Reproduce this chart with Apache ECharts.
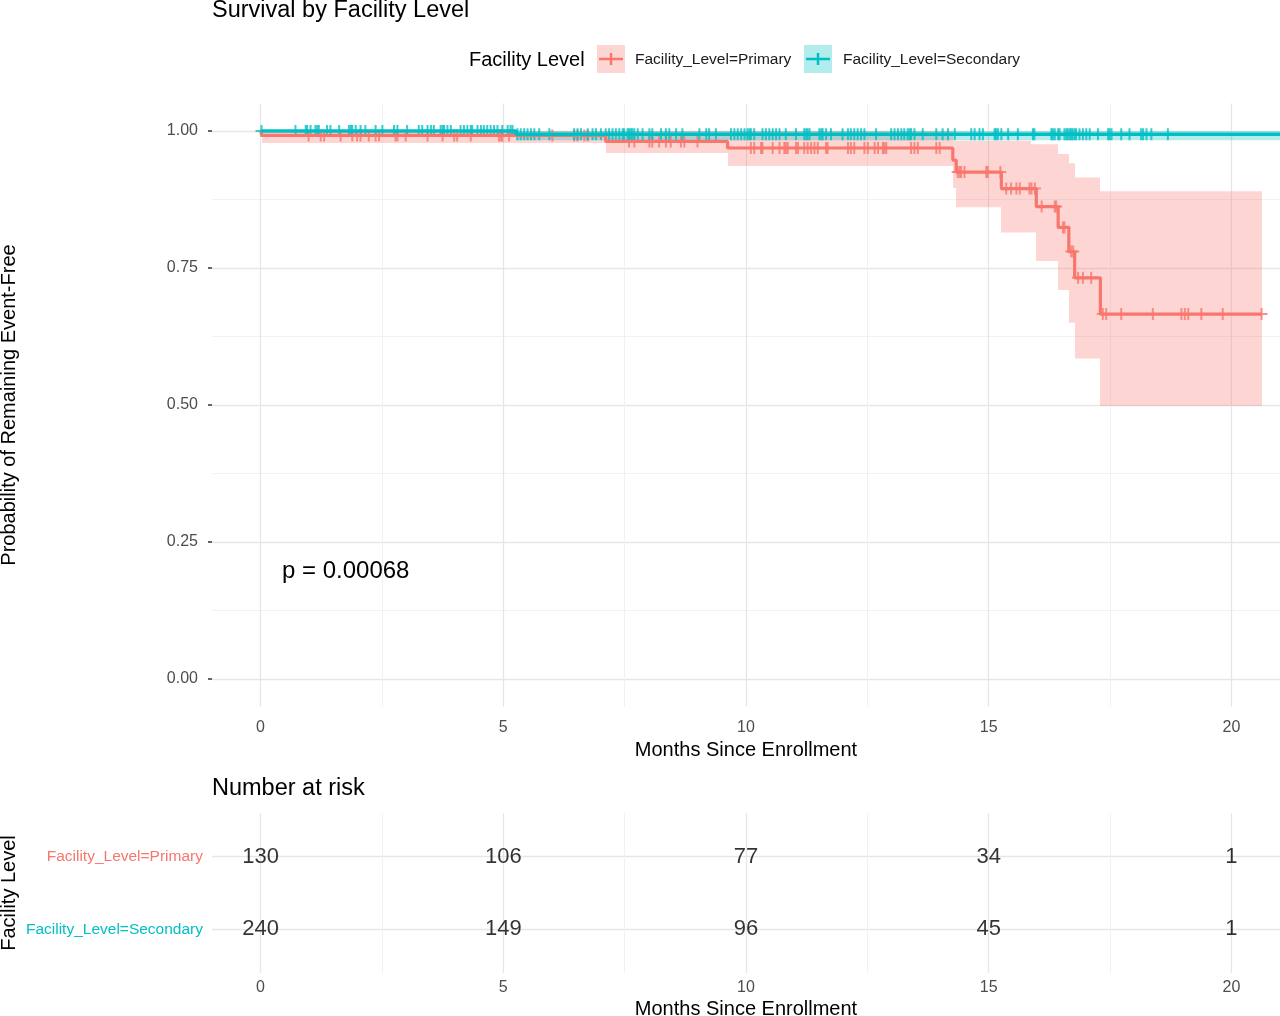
<!DOCTYPE html>
<html><head><meta charset="utf-8">
<script src="https://cdn.jsdelivr.net/npm/echarts@6/dist/echarts.min.js"></script>
<style>html,body{margin:0;padding:0;background:#fff}#c{width:1280px;height:1016px}</style>
</head><body><div id="c"></div>
<script>
// ---------- data ----------
const groups = ['Facility_Level=Primary', 'Facility_Level=Secondary'];
const xTicks = [0, 5, 10, 15, 20];
const xMinorTicks = [2.5, 7.5, 12.5, 17.5];
const yTicks = [0, 0.25, 0.5, 0.75, 1];
const yMinorTicks = [0.125, 0.375, 0.625, 0.875];

const primaryEventTimes = [0, 0.03, 7.11, 9.62, 14.26, 14.33, 15.26, 15.98, 16.43, 16.65, 16.77, 17.30, 20.62];
const primarySurv       = [1, 0.992, 0.981, 0.969, 0.947, 0.925, 0.895, 0.862, 0.824, 0.780, 0.732, 0.666, 0.666];
const primaryBandTimes  = [0, 0.03, 7.11, 9.62, 14.26, 14.33, 15.26, 15.88, 15.98, 16.43, 16.65, 16.77, 17.30, 20.62];
const primaryLower      = [1, 0.978, 0.960, 0.936, 0.896, 0.861, 0.815, 0.815, 0.763, 0.710, 0.650, 0.585, 0.498, 0.498];
const primaryUpper      = [1, 1, 1, 1, 0.982, 0.982, 0.982, 0.976, 0.976, 0.958, 0.941, 0.915, 0.890, 0.890];

const secondaryEventTimes = [0, 5.26, 21.8];
const secondarySurv       = [1, 0.994, 0.994];
const secondaryBandTimes  = [0, 5.26, 21.8];
const secondaryLower      = [1, 0.983, 0.983];
const secondaryUpper      = [1, 1, 1];

const primaryCensor = [0.99, 1.24, 1.31, 1.65, 1.89, 1.99, 2.06, 2.23, 2.37, 2.44, 2.78, 2.82, 2.99, 3.44, 3.75, 3.99, 4.05, 4.33, 4.91, 4.95, 4.98,
  5.12, 6.01, 6.46, 6.53, 6.67, 6.74, 7.59, 7.70, 8.01, 8.07, 8.21, 8.35, 8.45, 8.66, 8.73, 9.00, 10.10, 10.17, 10.31,
  10.34, 10.55, 10.69, 10.79, 10.82, 10.86, 11.03, 11.07, 11.20, 11.27, 11.34, 11.41, 11.48, 11.65, 11.68, 12.10, 12.16, 12.23,
  12.44, 12.51, 12.65, 12.72, 12.82, 12.85, 12.89, 13.40, 13.47, 13.54, 13.92, 13.99,
  14.36, 14.40, 14.43, 14.50, 14.95, 14.98, 15.24, 15.36, 15.46, 15.57, 15.64, 15.84, 15.88, 15.95, 16.09, 16.36, 16.39,
  16.53, 16.56, 16.70, 16.74, 16.84, 16.94, 17.11, 17.35, 17.42, 17.73, 18.38, 18.97, 19.04, 19.11, 19.38, 19.82, 20.62];

const secondaryCensor = [0.02, 0.72, 0.93, 0.96, 1.03, 1.13, 1.17, 1.20, 1.37, 1.44, 1.62, 1.82, 1.86, 1.89, 1.96, 2.06, 2.16, 2.37, 2.51,
  2.75, 2.82, 3.02, 3.26, 3.33, 3.44, 3.51, 3.57, 3.71, 3.75, 3.78, 3.85, 3.92, 4.12, 4.19, 4.26, 4.33, 4.36, 4.47, 4.54, 4.60,
  4.67, 4.74, 4.81, 4.88, 4.98, 5.09, 5.15, 5.19, 5.29, 5.36, 5.43, 5.50, 5.57, 5.64, 5.74, 5.95, 6.46, 6.53, 6.60, 6.74, 6.84,
  6.91, 7.01, 7.11, 7.18, 7.25, 7.32, 7.39, 7.46, 7.49, 7.56, 7.59, 7.63, 7.66, 7.70, 7.77, 7.87, 8.01, 8.07, 8.25, 8.35, 8.42,
  8.56, 8.69, 9.04, 9.18, 9.24, 9.38, 9.69, 9.76, 9.83, 9.90, 9.97, 10.03, 10.07, 10.10, 10.17, 10.34, 10.41, 10.48, 10.55,
  10.62, 10.69, 10.82, 11.03, 11.20, 11.24, 11.27, 11.31, 11.51, 11.55, 11.58, 11.65, 11.75, 11.99, 12.10, 12.16, 12.23, 12.30,
  12.37, 12.44, 12.68, 12.99, 13.06, 13.13, 13.20, 13.26, 13.33, 13.37, 13.40, 13.47, 13.64, 13.92, 14.05, 14.16, 14.30, 14.64,
  14.71, 14.81, 14.88, 15.12, 15.15, 15.19, 15.26, 15.40, 15.60, 15.91, 15.94, 16.29, 16.32, 16.36, 16.43, 16.46, 16.56, 16.60,
  16.63, 16.67, 16.70, 16.73, 16.77, 16.80, 16.87, 16.94, 17.01, 17.08, 17.25, 17.46, 17.49, 17.53, 17.73, 17.90, 18.14, 18.18,
  18.25, 18.35, 18.69];

const riskTimes = [0, 5, 10, 15, 20];
const primaryAtRisk = [130, 106, 77, 34, 1];
const secondaryAtRisk = [240, 149, 96, 45, 1];
const pValueText = 'p = 0.00068';

// ---------- helpers ----------
const RED = '#F8766D', TEAL = '#00BFC4';
const RED_A = 'rgba(248,118,109,0.3)', TEAL_A = 'rgba(0,191,196,0.3)';
const FONT = '"Liberation Sans", Arial, sans-serif';
const zip = (a, b) => a.map((v, i) => [v, b[i]]);
function survAt(times, surv, t) { let s = surv[0]; for (let i = 0; i < times.length; i++) if (times[i] <= t) s = surv[i]; return s; }
const PLUS = 'path://M5,0 H7 V5 H12 V7 H7 V12 H5 V7 H0 V5 H5 Z';

function bandSeries(times, lower, upper, fill) {
  const data = [];
  for (let i = 0; i < times.length - 1; i++) data.push([times[i], times[i + 1], lower[i], upper[i]]);
  return {
    type: 'custom', xAxisIndex: 0, yAxisIndex: 0, silent: true,
    encode: { x: [0, 1], y: [2, 3] },
    data: data,
    renderItem: (params, api) => {
      const a = api.coord([api.value(0), api.value(3)]);
      const b = api.coord([api.value(1), api.value(2)]);
      const cs = params.coordSys;
      const x0 = Math.max(cs.x, Math.round(a[0]));
      const x1 = Math.min(cs.x + cs.width, Math.round(b[0]));
      if (x1 <= x0) return null;
      return { type: 'rect', shape: { x: x0, y: a[1], width: x1 - x0, height: b[1] - a[1] }, style: { fill: fill } };
    }
  };
}

const majorSplit = { show: true, lineStyle: { color: '#e6e6e6', width: 1.3 } };
const minorSplit = { show: true, lineStyle: { color: '#f1f1f1', width: 1 } };
const tickLabel = { color: '#4d4d4d', fontSize: 16, fontFamily: FONT };
const noLine = { show: false, onZero: false };

const chart = echarts.init(document.getElementById('c'), null, { renderer: 'canvas' });
chart.setOption({
  animation: false,
  backgroundColor: '#fff',
  textStyle: { fontFamily: FONT },
  title: [
    { text: 'Survival by Facility Level', left: 212, top: -1, padding: 0,
      textStyle: { fontSize: 23.5, fontWeight: 'normal', color: '#000', fontFamily: FONT } },
    { text: 'Number at risk', left: 212, top: 777, padding: 0,
      textStyle: { fontSize: 23.5, fontWeight: 'normal', color: '#000', fontFamily: FONT } }
  ],
  grid: [
    { left: 212, right: 0, top: 103.6, bottom: 309.6, containLabel: false, outerBoundsMode: 'none' },
    { left: 212, right: 0, top: 813, bottom: 43, containLabel: false, outerBoundsMode: 'none' }
  ],
  xAxis: [
    { type: 'value', gridIndex: 0, min: -1, max: 21, position: 'bottom',
      axisLine: noLine, axisTick: { show: false, customValues: xTicks },
      axisLabel: Object.assign({ customValues: xTicks, margin: 13 }, tickLabel),
      splitLine: majorSplit,
      name: 'Months Since Enrollment', nameLocation: 'middle', nameGap: 34, nameMoveOverlap: false,
      nameTextStyle: { fontSize: 20, color: '#000', fontFamily: FONT } },
    { type: 'value', gridIndex: 0, min: -1, max: 21, position: 'top',
      axisLine: noLine, axisTick: { show: false, customValues: xMinorTicks },
      axisLabel: { show: false }, splitLine: minorSplit },
    { type: 'value', gridIndex: 1, min: -1, max: 21, position: 'bottom',
      axisLine: noLine, axisTick: { show: false, customValues: xTicks },
      axisLabel: Object.assign({ customValues: xTicks, margin: 7 }, tickLabel),
      splitLine: majorSplit,
      name: 'Months Since Enrollment', nameLocation: 'middle', nameGap: 26, nameMoveOverlap: false,
      nameTextStyle: { fontSize: 20, color: '#000', fontFamily: FONT } },
    { type: 'value', gridIndex: 1, min: -1, max: 21, position: 'top',
      axisLine: noLine, axisTick: { show: false, customValues: xMinorTicks },
      axisLabel: { show: false }, splitLine: minorSplit }
  ],
  yAxis: [
    { type: 'value', gridIndex: 0, min: -0.05, max: 1.05, position: 'left',
      axisLine: noLine,
      axisTick: { show: true, customValues: yTicks, length: 4, lineStyle: { color: '#333', width: 1.5 } },
      axisLabel: Object.assign({ customValues: yTicks, margin: 14, formatter: v => v.toFixed(2) }, tickLabel),
      splitLine: majorSplit,
      name: 'Probability of Remaining Event-Free', nameLocation: 'middle', nameGap: 193, nameRotate: 90, nameMoveOverlap: false,
      nameTextStyle: { fontSize: 20, color: '#000', fontFamily: FONT } },
    { type: 'value', gridIndex: 0, min: -0.05, max: 1.05, position: 'right',
      axisLine: noLine, axisTick: { show: false, customValues: yMinorTicks },
      axisLabel: { show: false }, splitLine: minorSplit },
    { type: 'value', gridIndex: 1, min: 0.4, max: 2.6, position: 'left',
      axisLine: noLine, axisTick: { show: false, customValues: [1, 2] },
      axisLabel: { customValues: [1, 2], margin: 9,
        formatter: v => v === 2 ? '{p|' + groups[0] + '}' : '{s|' + groups[1] + '}',
        rich: { p: { color: RED, fontSize: 15.5, fontFamily: FONT }, s: { color: TEAL, fontSize: 15.5, fontFamily: FONT } } },
      splitLine: majorSplit,
      name: 'Facility Level', nameLocation: 'middle', nameGap: 193, nameRotate: 90, nameMoveOverlap: false,
      nameTextStyle: { fontSize: 20, color: '#000', fontFamily: FONT } }
  ],
  series: [
    bandSeries(primaryBandTimes, primaryLower, primaryUpper, RED_A),
    bandSeries(secondaryBandTimes, secondaryLower, secondaryUpper, TEAL_A),
    { type: 'line', name: groups[0], xAxisIndex: 0, yAxisIndex: 0, step: 'end', showSymbol: false,
      lineStyle: { color: RED, width: 3.2 }, data: zip(primaryEventTimes, primarySurv) },
    { type: 'line', name: groups[1], xAxisIndex: 0, yAxisIndex: 0, step: 'end', showSymbol: false,
      lineStyle: { color: TEAL, width: 3.4 }, data: zip(secondaryEventTimes, secondarySurv) },
    { type: 'scatter', xAxisIndex: 0, yAxisIndex: 0, symbol: PLUS, symbolSize: 12, itemStyle: { color: RED },
      data: primaryCensor.map(t => [t, survAt(primaryEventTimes, primarySurv, t)]) },
    { type: 'scatter', xAxisIndex: 0, yAxisIndex: 0, symbol: PLUS, symbolSize: 12, itemStyle: { color: TEAL },
      data: secondaryCensor.map(t => [t, survAt(secondaryEventTimes, secondarySurv, t)]) },
    { type: 'scatter', xAxisIndex: 2, yAxisIndex: 2, symbolSize: 1, itemStyle: { color: 'rgba(0,0,0,0)' },
      label: { show: true, position: 'inside', formatter: p => String(p.value[2]), fontSize: 22, color: '#000', fontFamily: FONT },
      data: riskTimes.map((t, i) => [t, 2, primaryAtRisk[i]]) },
    { type: 'scatter', xAxisIndex: 2, yAxisIndex: 2, symbolSize: 1, itemStyle: { color: 'rgba(0,0,0,0)' },
      label: { show: true, position: 'inside', formatter: p => String(p.value[2]), fontSize: 22, color: '#000', fontFamily: FONT },
      data: riskTimes.map((t, i) => [t, 1, secondaryAtRisk[i]]) }
  ],
  graphic: [
    { type: 'text', x: 282, y: 571, style: { text: pValueText, fontSize: 24, fontFamily: FONT, fill: '#000', verticalAlign: 'middle' } },
    { type: 'text', x: 469, y: 60, style: { text: 'Facility Level', fontSize: 20, fontFamily: FONT, fill: '#000', verticalAlign: 'middle' } },
    { type: 'rect', shape: { x: 597, y: 45, width: 28, height: 28 }, style: { fill: RED_A } },
    { type: 'line', shape: { x1: 599, y1: 59, x2: 623, y2: 59 }, style: { stroke: RED, lineWidth: 2.5 } },
    { type: 'line', shape: { x1: 611, y1: 53, x2: 611, y2: 65 }, style: { stroke: RED, lineWidth: 2.5 } },
    { type: 'text', x: 635, y: 60, style: { text: groups[0], fontSize: 15.5, fontFamily: FONT, fill: '#1a1a1a', verticalAlign: 'middle' } },
    { type: 'rect', shape: { x: 804, y: 45, width: 28, height: 28 }, style: { fill: TEAL_A } },
    { type: 'line', shape: { x1: 806, y1: 59, x2: 830, y2: 59 }, style: { stroke: TEAL, lineWidth: 2.5 } },
    { type: 'line', shape: { x1: 818, y1: 53, x2: 818, y2: 65 }, style: { stroke: TEAL, lineWidth: 2.5 } },
    { type: 'text', x: 843, y: 60, style: { text: groups[1], fontSize: 15.5, fontFamily: FONT, fill: '#1a1a1a', verticalAlign: 'middle' } }
  ]
});
</script>
</body></html>
